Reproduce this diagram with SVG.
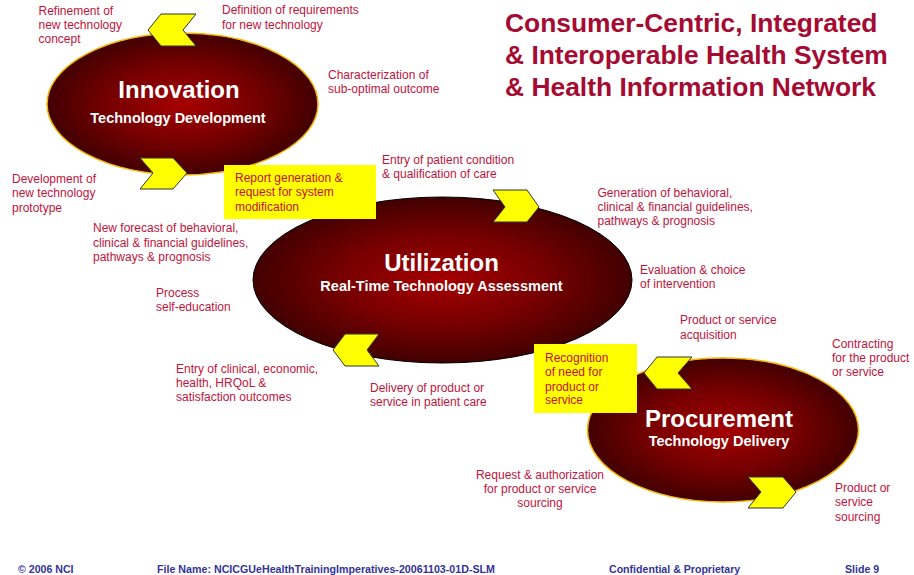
<svg xmlns="http://www.w3.org/2000/svg" width="914" height="575" viewBox="0 0 914 575">
<defs>
<radialGradient id="rg" cx="50%" cy="50%" r="50%">
<stop offset="0%" stop-color="#A60000"/>
<stop offset="55%" stop-color="#760000"/>
<stop offset="100%" stop-color="#420000"/>
</radialGradient>
<style>
.lbl{font-family:"Liberation Sans",Arial,sans-serif;font-size:12px;fill:#C0143C}
.box{fill:#FFFF00}
.btx{font-family:"Liberation Sans",Arial,sans-serif;font-size:12px;fill:#C4102A}
.big{font-family:"Liberation Sans",Arial,sans-serif;font-size:24px;font-weight:bold;fill:#FFFFFF;text-anchor:middle}
.sub{font-family:"Liberation Sans",Arial,sans-serif;font-size:14.5px;font-weight:bold;fill:#FFFFFF;text-anchor:middle}
.title{font-family:"Liberation Sans",Arial,sans-serif;font-size:26.4px;font-weight:bold;fill:#A50A32}
.foot{font-family:"Liberation Sans",Arial,sans-serif;font-size:10.6px;font-weight:bold;fill:#333399}
.chev{fill:#FFFF00;stroke:#333333;stroke-width:1}
</style>
</defs>
<rect width="914" height="575" fill="#FFFFFF"/>

<g id="title">
<text class="title" x="505" y="32">Consumer-Centric, Integrated</text>
<text class="title" x="505" y="64">&amp; Interoperable Health System</text>
<text class="title" x="505" y="96">&amp; Health Information Network</text>
</g>

<g id="innovation">
<ellipse cx="182.5" cy="104" rx="135.5" ry="71" fill="url(#rg)" stroke="#F5B800" stroke-width="1.5"/>
<text class="big" x="179" y="98">Innovation</text>
<text class="sub" x="178" y="123">Technology Development</text>
</g>

<g id="utilization">
<ellipse cx="442.5" cy="280" rx="189.5" ry="83" fill="url(#rg)" stroke="#000000" stroke-width="1"/>
<text class="big" x="441.5" y="271">Utilization</text>
<text class="sub" x="441.5" y="291">Real-Time Technology Assessment</text>
</g>

<g id="procurement">
<ellipse cx="723" cy="430" rx="135.5" ry="72" fill="url(#rg)" stroke="#F5B800" stroke-width="1.5"/>
<text class="big" x="719" y="427">Procurement</text>
<text class="sub" x="719" y="446">Technology Delivery</text>
</g>

<g id="connectors">
<polygon class="chev" points="161,14 196,14 183,30 196,46 161,46 148,30"/>
<polygon class="chev" points="140,158 173,158 187,173 173,189 140,189 153,173"/>
<polygon class="chev" points="493,190 527,190 539,207 527,222 493,222 505,207"/>
<polygon class="chev" points="345,334 379,334 367,350 379,366 345,366 333,350"/>
<polygon class="chev" points="657,357 692,357 678,373 692,389 657,389 644,373"/>
<polygon class="chev" points="748,477 783,477 796,492 783,508 748,508 761,492"/>
</g>

<g id="box-report">
<rect class="box" x="224" y="165" width="152" height="54"/>
<text class="btx" x="235" y="182">Report generation &amp;</text>
<text class="btx" x="235" y="196">request for system</text>
<text class="btx" x="235" y="211">modification</text>
</g>

<g id="box-recognition">
<rect class="box" x="534" y="344" width="103" height="69"/>
<text class="btx" x="545" y="362">Recognition</text>
<text class="btx" x="545" y="376">of need for</text>
<text class="btx" x="545" y="391">product or</text>
<text class="btx" x="545" y="404">service</text>
</g>

<g id="labels">
<text class="lbl" x="38.5" y="15">Refinement of</text>
<text class="lbl" x="38.5" y="29">new technology</text>
<text class="lbl" x="38.5" y="43">concept</text>

<text class="lbl" x="222" y="14">Definition of requirements</text>
<text class="lbl" x="222" y="28.5">for new technology</text>

<text class="lbl" x="328" y="79">Characterization of</text>
<text class="lbl" x="328" y="93">sub-optimal outcome</text>

<text class="lbl" x="382" y="164">Entry of patient condition</text>
<text class="lbl" x="382" y="178">&amp; qualification of care</text>

<text class="lbl" x="12" y="183">Development of</text>
<text class="lbl" x="12" y="197">new technology</text>
<text class="lbl" x="12" y="212">prototype</text>

<text class="lbl" x="93" y="232">New forecast of behavioral,</text>
<text class="lbl" x="93" y="246.5">clinical &amp; financial guidelines,</text>
<text class="lbl" x="93" y="261">pathways &amp; prognosis</text>

<text class="lbl" x="597.5" y="197">Generation of behavioral,</text>
<text class="lbl" x="597.5" y="211">clinical &amp; financial guidelines,</text>
<text class="lbl" x="597.5" y="225">pathways &amp; prognosis</text>

<text class="lbl" x="640" y="273.5">Evaluation &amp; choice</text>
<text class="lbl" x="640" y="287.5">of intervention</text>

<text class="lbl" x="156" y="297">Process</text>
<text class="lbl" x="156" y="311">self-education</text>

<text class="lbl" x="680" y="324">Product or service</text>
<text class="lbl" x="680" y="338.5">acquisition</text>

<text class="lbl" x="832" y="348">Contracting</text>
<text class="lbl" x="832" y="362">for the product</text>
<text class="lbl" x="832" y="376">or service</text>

<text class="lbl" x="176" y="373">Entry of clinical, economic,</text>
<text class="lbl" x="176" y="387">health, HRQoL &amp;</text>
<text class="lbl" x="176" y="401">satisfaction outcomes</text>

<text class="lbl" x="370" y="392">Delivery of product or</text>
<text class="lbl" x="370" y="406">service in patient care</text>

<text class="lbl" x="540" y="478.5" text-anchor="middle">Request &amp; authorization</text>
<text class="lbl" x="540" y="493" text-anchor="middle">for product or service</text>
<text class="lbl" x="540" y="507" text-anchor="middle">sourcing</text>

<text class="lbl" x="835" y="492">Product or</text>
<text class="lbl" x="835" y="506">service</text>
<text class="lbl" x="835" y="520.5">sourcing</text>
</g>

<g id="footer">
<text class="foot" x="18" y="573">© 2006 NCI</text>
<text class="foot" x="157" y="573" textLength="338" lengthAdjust="spacingAndGlyphs">File Name: NCICGUeHealthTrainingImperatives-20061103-01D-SLM</text>
<text class="foot" x="609" y="573">Confidential &amp; Proprietary</text>
<text class="foot" x="845" y="573">Slide 9</text>
</g>
</svg>
